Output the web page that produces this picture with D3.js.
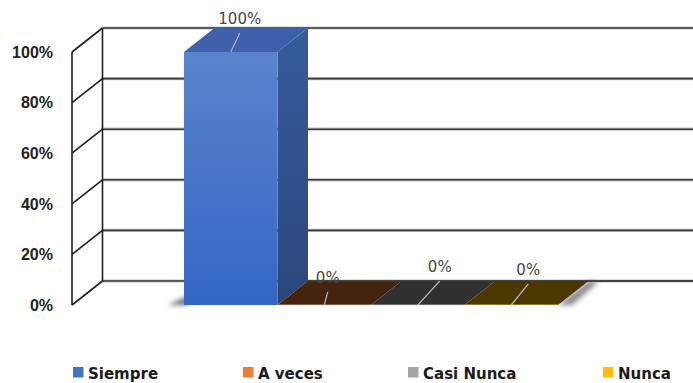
<!DOCTYPE html>
<html>
<head>
<meta charset="utf-8">
<script src="https://cdn.jsdelivr.net/npm/d3@7/dist/d3.min.js"></script>
<style>
  html, body { margin: 0; padding: 0; background: #fff; }
  svg { display: block; }
</style>
</head>
<body>
<svg id="chart" width="693" height="383"></svg>
<script>
// Survey answers and their shares (percent)
const categories = ["Siempre", "A veces", "Casi Nunca", "Nunca"];
const values = [100, 0, 0, 0];
const valueLabels = ["100%", "0%", "0%", "0%"];
const tickValues = [0, 20, 40, 60, 80, 100];
const tickLabels = ["0%", "20%", "40%", "60%", "80%", "100%"];
const seriesColors = ["#4472C4", "#ED7D31", "#A5A5A5", "#FFC000"];

const W = 693, H = 383;
const svg = d3.select("#chart");
const defs = svg.append("defs");

// 3D projection: depth offset of the back plane
const DX = 30.5, DY = -24;

// Front-plane scales
const y = d3.scaleLinear().domain([0, 100]).range([305, 52]);
const x = d3.scaleBand().domain(categories).range([184, 558]).paddingInner(0).paddingOuter(0);
const wallX = 72; // front-left edge of the side wall

// ---- back wall gridlines ----
const grid = svg.append("g");
tickValues.forEach(t => {
  const yy = y(t) + DY;
  grid.append("line")
    .attr("x1", wallX + DX).attr("x2", W + 2).attr("y1", yy).attr("y2", yy)
    .attr("stroke", "#c4c4c4").attr("stroke-width", 3.2);
  grid.append("line")
    .attr("x1", wallX + DX).attr("x2", W + 2).attr("y1", yy).attr("y2", yy)
    .attr("stroke", "#3a3a3a").attr("stroke-width", 1.6);
});

// ---- side wall ----
const wall = svg.append("g").attr("stroke", "#1e1e1e").attr("stroke-width", 1.6).attr("fill", "none");
wall.append("line").attr("x1", wallX).attr("x2", wallX).attr("y1", y(0)).attr("y2", y(100));
wall.append("line").attr("x1", wallX + DX).attr("x2", wallX + DX).attr("y1", y(0) + DY).attr("y2", y(100) + DY);
tickValues.forEach(t => {
  wall.append("line")
    .attr("x1", wallX).attr("y1", y(t))
    .attr("x2", wallX + DX).attr("y2", y(t) + DY);
});

// ---- axis tick labels ----
svg.append("g").selectAll("text")
  .data(tickValues)
  .join("text")
  .attr("x", 53)
  .attr("y", d => y(d))
  .attr("dy", "0.36em")
  .attr("text-anchor", "end")
  .attr("font-family", "'Liberation Sans', Arial, sans-serif")
  .attr("font-weight", "bold")
  .attr("font-size", 16)
  .attr("fill", "#222")
  .text((d, i) => tickLabels[i]);

// ---- soft floor shadows ----
const blur = defs.append("filter").attr("id", "soft").attr("x", "-50%").attr("y", "-50%").attr("width", "200%").attr("height", "200%");
blur.append("feGaussianBlur").attr("stdDeviation", 2.6);

const firstX = x(categories[0]);
const lastX = x(categories[categories.length - 1]) + x.bandwidth();
svg.append("path")
  .attr("d", `M${firstX - 16},${y(0)} L${firstX + 4},${y(0)} L${firstX + 4},${y(0) - 9} Z`)
  .attr("fill", "#6a6a6a").attr("filter", "url(#soft)");
svg.append("path")
  .attr("d", `M${lastX},${y(0)} L${lastX + DX},${y(0) + DY} L${lastX + DX + 10},${y(0) + DY + 1} L${lastX + 14},${y(0)} Z`)
  .attr("fill", "#8a8a8a").attr("filter", "url(#soft)");

// ---- bars ----
function shade(c, k) {
  const b = d3.rgb(c);
  return d3.rgb(b.r * k, b.g * k, b.b * k).formatHex();
}
function faceColors(c, v) {
  if (v > 0) {
    return {
      frontTop: d3.interpolateRgb(c, "#ffffff")(0.12),
      frontBottom: d3.interpolateRgb(c, "#2a60c8")(0.6),
      sideTop: shade(c, 0.8),
      sideBottom: shade(c, 0.62),
      top: d3.interpolateRgb(c, "#3a5296")(0.55)
    };
  }
  const dark = shade(c, 0.29);
  return { frontTop: dark, frontBottom: dark, sideTop: dark, sideBottom: dark, top: dark,
           edge: d3.interpolateRgb(c, "#ffffff")(0.6) };
}

const bars = svg.append("g");
categories.forEach((cat, i) => {
  const v = values[i];
  const fc = faceColors(seriesColors[i], v);
  const x0 = x(cat), x1 = x0 + x.bandwidth();
  const yTop = y(v), yBot = y(0);

  if (v > 0) {
    const gFront = defs.append("linearGradient").attr("id", "front" + i)
      .attr("x1", 0).attr("y1", 0).attr("x2", 0).attr("y2", 1);
    gFront.append("stop").attr("offset", 0).attr("stop-color", fc.frontTop);
    gFront.append("stop").attr("offset", 1).attr("stop-color", fc.frontBottom);
    const gSide = defs.append("linearGradient").attr("id", "side" + i)
      .attr("x1", 0).attr("y1", 0).attr("x2", 0).attr("y2", 1);
    gSide.append("stop").attr("offset", 0).attr("stop-color", fc.sideTop);
    gSide.append("stop").attr("offset", 1).attr("stop-color", fc.sideBottom);

    // right side face
    bars.append("path")
      .attr("d", `M${x1},${yTop} L${x1 + DX},${yTop + DY} L${x1 + DX},${yBot + DY} L${x1},${yBot} Z`)
      .attr("fill", `url(#side${i})`);
    // front face
    bars.append("rect")
      .attr("x", x0).attr("y", yTop)
      .attr("width", x1 - x0).attr("height", yBot - yTop)
      .attr("fill", `url(#front${i})`);
  }
  // top face
  bars.append("path")
    .attr("d", `M${x0},${yTop} L${x0 + DX},${yTop + DY} L${x1 + DX},${yTop + DY} L${x1},${yTop} Z`)
    .attr("fill", fc.top);
  if (v === 0) {
    bars.append("line")
      .attr("x1", x0).attr("x2", x1).attr("y1", yBot).attr("y2", yBot)
      .attr("stroke", fc.edge).attr("stroke-width", 1).attr("opacity", 0.7);
  }
});

// 0% back gridline stays visible over the floor, right of the tall bar
svg.append("line")
  .attr("x1", x(categories[0]) + x.bandwidth() + DX).attr("x2", W + 2)
  .attr("y1", y(0) + DY).attr("y2", y(0) + DY)
  .attr("stroke", "#3a3a3a").attr("stroke-width", 1.4);

// ---- data labels with leader lines ----
const labelOffsets = [
  { dx: 9, lead: -19, base: -28 },
  { dx: 3.5, lead: -13, base: -22 },
  { dx: 22, lead: -24, base: -33 },
  { dx: 17, lead: -21, base: -30 }
];
const labels = svg.append("g");
categories.forEach((cat, i) => {
  const ax = x(cat) + x.bandwidth() / 2;
  const ay = y(values[i]);
  const o = labelOffsets[i];
  labels.append("line")
    .attr("x1", ax).attr("y1", ay)
    .attr("x2", ax + o.dx).attr("y2", ay + o.lead)
    .attr("stroke", "#b5b5b5").attr("stroke-width", 1.2);
  labels.append("text")
    .attr("x", ax + o.dx).attr("y", ay + o.base)
    .attr("text-anchor", "middle")
    .attr("font-family", "'DejaVu Sans', sans-serif")
    .attr("font-size", 15)
    .attr("fill", "#484848")
    .text(valueLabels[i]);
});

// ---- legend ----
const legendPos = [73, 243, 408, 603];
const legend = svg.append("g").attr("transform", "translate(0,367)");
categories.forEach((cat, i) => {
  const g = legend.append("g").attr("transform", `translate(${legendPos[i]},0)`);
  g.append("rect").attr("width", 10.5).attr("height", 10.5).attr("fill", seriesColors[i]);
  g.append("text")
    .attr("x", 15).attr("y", 11.5)
    .attr("font-family", "'DejaVu Sans', sans-serif")
    .attr("font-weight", "bold")
    .attr("font-size", 15)
    .attr("fill", "#1a1a1a")
    .text(cat);
});
</script>
</body>
</html>
